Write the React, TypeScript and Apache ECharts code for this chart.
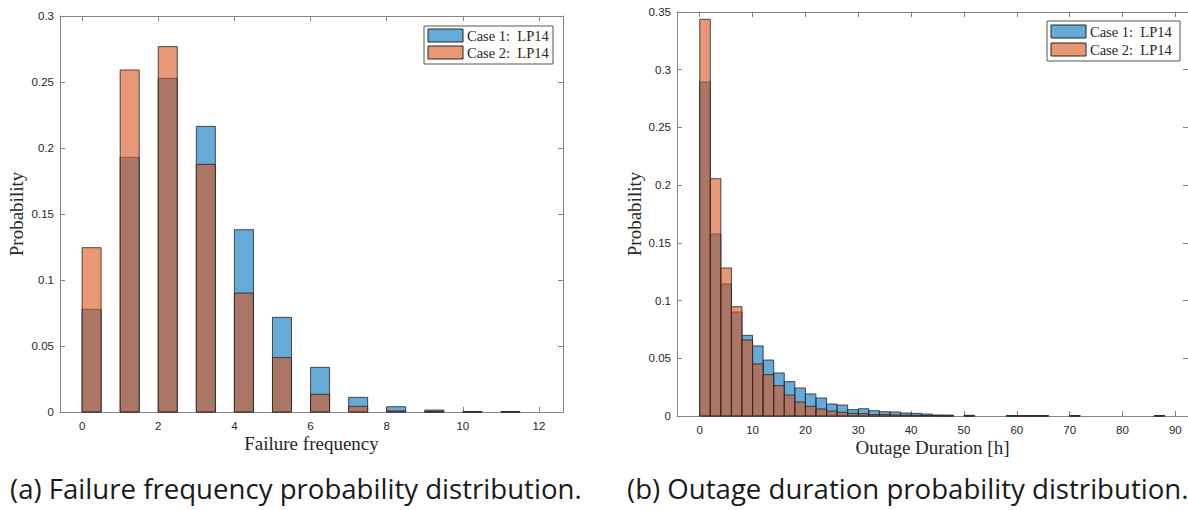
import React, { useEffect, useRef } from "react";
import * as echarts from "echarts";

// ---------- Data ----------
// (a) Failure frequency: bins start at integer k, width 0.5
const failureBinStart = [0, 1, 2, 3, 4, 5, 6, 7, 8, 9, 10, 11];
const failureBinWidth = 0.5;
const failureCase1 = [0.0778, 0.193, 0.2528, 0.2164, 0.1381, 0.0717, 0.0338, 0.0111, 0.004, 0.0015, 0.0003, 0.0003];
const failureCase2 = [0.1245, 0.2591, 0.2768, 0.1876, 0.0901, 0.0412, 0.0134, 0.0043, 0.0008, 0.0004, 0.0001, 0.0001];
const failureTicks = [0, 2, 4, 6, 8, 10, 12];

// (b) Outage duration: bins of 2 h from 0 to 88
const outageBinStart = [
  0, 2, 4, 6, 8, 10, 12, 14, 16, 18, 20, 22, 24, 26, 28, 30, 32, 34, 36, 38, 40, 42,
  44, 46, 48, 50, 52, 54, 56, 58, 60, 62, 64, 66, 68, 70, 72, 74, 76, 78, 80, 82, 84, 86,
];
const outageBinWidth = 2;
const outageCase1 = [
  0.2894, 0.1577, 0.1144, 0.0901, 0.0699, 0.0607, 0.0485, 0.0373, 0.0298, 0.0243, 0.0191, 0.0156,
  0.0104, 0.0095, 0.0055, 0.0063, 0.0046, 0.0037, 0.0035, 0.0026, 0.0023, 0.0017,
  0.0009, 0.0008, 0, 0.0006, 0, 0, 0, 0.0003, 0.0003, 0.0003, 0.0003, 0, 0, 0.0003, 0, 0, 0, 0, 0, 0, 0, 0.0003,
];
const outageCase2 = [
  0.3437, 0.2056, 0.1282, 0.0947, 0.0659, 0.0451, 0.0358, 0.0263, 0.0182, 0.0121, 0.0084, 0.0061,
  0.0043, 0.0032, 0.0023, 0.002, 0.0012, 0.0012, 0.0009, 0.0008, 0.0006, 0.0005,
  0.0003, 0.0002, 0, 0.0001, 0, 0, 0, 0.0001, 0.0001, 0.0001, 0.0001, 0, 0, 0.0001, 0, 0, 0, 0, 0, 0, 0, 0.0001,
];
const outageTicks = [0, 10, 20, 30, 40, 50, 60, 70, 80, 90];

const legendLabels = ["Case 1:  LP14", "Case 2:  LP14"];
const captionA = "(a) Failure frequency probability distribution.";
const captionB = "(b) Outage duration probability distribution.";

// ---------- Styles ----------
const BLUE = "rgba(0,114,189,0.6)";
const ORANGE = "rgba(217,83,25,0.6)";
const EDGE = "#262626";
const AXIS = "#858585";
const TEXT = "#262626";
const SERIF = "'Liberation Serif', 'DejaVu Serif', serif";
const SANS = "'Liberation Sans', Arial, Helvetica, sans-serif";

function bins(starts: number[], width: number, vals: number[]) {
  const out: number[][] = [];
  starts.forEach((s, i) => {
    if (vals[i] > 0) out.push([s, s + width, vals[i]]);
  });
  return out;
}

function renderBar(fill: string) {
  return (_params: any, api: any) => {
    const x0 = api.value(0);
    const x1 = api.value(1);
    const v = api.value(2);
    const p0 = api.coord([x0, 0]);
    const p1 = api.coord([x1, v]);
    return {
      type: "rect",
      shape: { x: p0[0], y: p1[1], width: p1[0] - p0[0], height: p0[1] - p1[1] },
      style: { fill, stroke: EDGE, lineWidth: 0.8 },
    };
  };
}

function xAxisPair(gridIndex: number, min: number, max: number, ticks: number[], name: string) {
  const common = {
    type: "value",
    gridIndex,
    min,
    max,
    splitLine: { show: false },
    axisLine: { show: true, onZero: false, lineStyle: { color: AXIS, width: 1 } },
    axisTick: { show: true, inside: true, length: 5, customValues: ticks, lineStyle: { color: AXIS } },
  };
  return [
    {
      ...common,
      position: "bottom",
      axisLabel: { show: true, customValues: ticks, color: TEXT, fontSize: 11.5, fontFamily: SANS, margin: 8 },
      name,
      nameLocation: "middle",
      nameGap: 22,
      nameMoveOverlap: false,
      nameTextStyle: { color: TEXT, fontSize: 19, fontFamily: SERIF },
    },
    { ...common, position: "top", axisLabel: { show: false } },
  ];
}

function yAxisPair(gridIndex: number, max: number, nameGap: number) {
  const common = {
    type: "value",
    gridIndex,
    min: 0,
    max,
    interval: 0.05,
    splitLine: { show: false },
    axisLine: { show: true, onZero: false, lineStyle: { color: AXIS, width: 1 } },
    axisTick: { show: true, inside: true, length: 5, lineStyle: { color: AXIS } },
  };
  return [
    {
      ...common,
      position: "left",
      axisLabel: { show: true, color: TEXT, fontSize: 11.5, fontFamily: SANS, margin: 6 },
      name: "Probability",
      nameLocation: "middle",
      nameGap,
      nameMoveOverlap: false,
      nameTextStyle: { color: TEXT, fontSize: 19, fontFamily: SERIF },
    },
    { ...common, position: "right", axisLabel: { show: false } },
  ];
}

function legendGraphic(x: number, y: number, w: number, h: number, sx: number, sy: number[]) {
  const children: any[] = [
    { type: "rect", shape: { x, y, width: w, height: h }, style: { fill: "#fff", stroke: "#555", lineWidth: 1 } },
  ];
  [BLUE, ORANGE].forEach((c, i) => {
    children.push({
      type: "rect",
      shape: { x: sx, y: sy[i], width: 35, height: 13 },
      style: { fill: c, stroke: EDGE, lineWidth: 1 },
    });
    children.push({
      type: "text",
      style: {
        x: sx + 39,
        y: sy[i] + 7,
        text: legendLabels[i],
        fill: TEXT,
        font: `14.5px ${SERIF}`,
        verticalAlign: "middle",
        align: "left",
      },
    });
  });
  return { type: "group", children };
}

export default function App() {
  const ref = useRef<HTMLDivElement>(null);
  useEffect(() => {
    if (!ref.current) return;
    const chart = echarts.init(ref.current, null, { renderer: "svg" });
    const [xa0, xa1] = xAxisPair(0, -0.58, 12.63, failureTicks, "Failure frequency");
    const [xb0, xb1] = xAxisPair(1, -4.3, 92.4, outageTicks, "Outage Duration [h]");
    const [ya0, ya1] = yAxisPair(0, 0.3, 34);
    const [yb0, yb1] = yAxisPair(1, 0.35, 33);
    chart.setOption({
      animation: false,
      backgroundColor: "#ffffff",
      grid: [
        { left: 60, top: 16, width: 503, height: 396 },
        { left: 677, top: 12, width: 512, height: 404 },
      ],
      xAxis: [xa0, xa1, xb0, xb1],
      yAxis: [ya0, ya1, yb0, yb1],
      series: [
        {
          type: "custom",
          name: legendLabels[0],
          xAxisIndex: 0,
          yAxisIndex: 0,
          renderItem: renderBar(BLUE),
          encode: { x: [0, 1], y: 2 },
          data: bins(failureBinStart, failureBinWidth, failureCase1),
        },
        {
          type: "custom",
          name: legendLabels[1],
          xAxisIndex: 0,
          yAxisIndex: 0,
          renderItem: renderBar(ORANGE),
          encode: { x: [0, 1], y: 2 },
          data: bins(failureBinStart, failureBinWidth, failureCase2),
        },
        {
          type: "custom",
          name: legendLabels[0],
          xAxisIndex: 2,
          yAxisIndex: 2,
          renderItem: renderBar(BLUE),
          encode: { x: [0, 1], y: 2 },
          data: bins(outageBinStart, outageBinWidth, outageCase1),
        },
        {
          type: "custom",
          name: legendLabels[1],
          xAxisIndex: 2,
          yAxisIndex: 2,
          renderItem: renderBar(ORANGE),
          encode: { x: [0, 1], y: 2 },
          data: bins(outageBinStart, outageBinWidth, outageCase2),
        },
      ],
      graphic: [
        legendGraphic(424, 26, 129, 38, 428, [29, 46]),
        legendGraphic(1047, 21, 133, 40, 1051, [25, 43]),
        {
          type: "text",
          style: { x: 10, y: 488, text: captionA, fill: "#1a1a1a", font: "27.6px 'Open Sans', sans-serif", verticalAlign: "middle" },
        },
        {
          type: "text",
          style: { x: 627, y: 488, text: captionB, fill: "#1a1a1a", font: "27.6px 'Open Sans', sans-serif", verticalAlign: "middle" },
        },
      ],
    });
    return () => chart.dispose();
  }, []);
  return (
    <div
      ref={ref}
      style={{ position: "fixed", left: 0, top: 0, width: 1188, height: 510, background: "#fff" }}
    />
  );
}
